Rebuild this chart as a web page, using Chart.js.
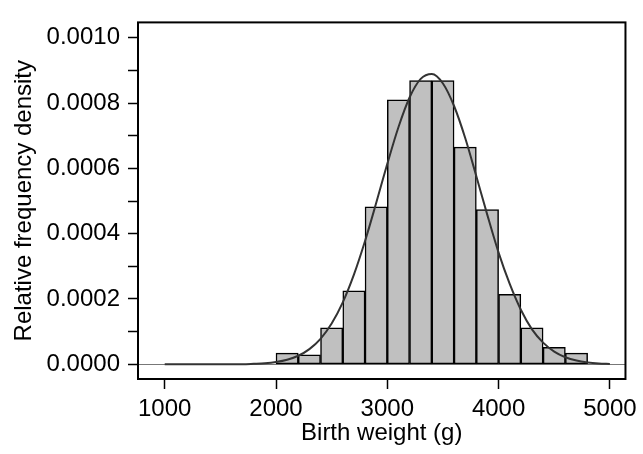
<!DOCTYPE html>
<html>
<head>
<meta charset="utf-8">
<style>
  html, body { margin: 0; padding: 0; background: #fff; }
  canvas { display: block; }
</style>
<script src="https://cdn.jsdelivr.net/npm/chart.js"></script>
</head>
<body>
<canvas id="birthWeightChart" width="643" height="454"></canvas>
<script>
// ─── DATA ───────────────────────────────────────────────
// histogram bins: 200 g wide, given by their centres
const binCentres = [2100, 2300, 2500, 2700, 2900, 3100, 3300, 3500, 3700, 3900, 4100, 4300, 4500, 4700];
const binDensity = [0.0000341, 0.0000292, 0.000112, 0.000225, 0.000482, 0.000810, 0.000869,
                    0.000869, 0.000665, 0.000474, 0.000214, 0.000112, 0.0000517, 0.0000341];

// fitted normal curve
const curveWeight = [1000, 1200, 1400, 1600, 1700, 1800, 1900, 2000, 2100, 2200, 2300, 2400, 2500,
                     2600, 2700, 2800, 2900, 3000, 3100, 3200, 3300, 3400, 3500, 3600, 3700, 3800,
                     3900, 4000, 4100, 4200, 4300, 4400, 4500, 4600, 4700, 4800, 4900, 5000];
const curveDensity = [0, 0, 0, 0, 0.0000001, 0.0000016, 0.0000035, 0.0000073, 0.0000141, 0.0000262,
                      0.0000465, 0.0000780, 0.0001248, 0.0001897, 0.0002744, 0.0003775, 0.0004937,
                      0.000614, 0.000726, 0.000817, 0.000874, 0.000889, 0.000860, 0.000791, 0.000693,
                      0.000576, 0.000456, 0.000342, 0.000246, 0.000167, 0.000107, 0.0000664,
                      0.0000389, 0.0000216, 0.0000114, 0.0000058, 0.0000027, 0.0000012];

// axis ticks
const xTickValues = [1000, 2000, 3000, 4000, 5000];
const yTickValues = [0, 0.0001, 0.0002, 0.0003, 0.0004, 0.0005, 0.0006, 0.0007, 0.0008, 0.0009, 0.0010];
const yTickLabels = ['0.0000', '', '0.0002', '', '0.0004', '', '0.0006', '', '0.0008', '', '0.0010'];

// ─── STYLE ──────────────────────────────────────────────
const FONT = { family: '"Liberation Sans", Arial, Helvetica, sans-serif', size: 24, lineHeight: 1.2 };

// draws the box round the plot area
const frameBox = {
    id: 'frameBox',
    afterDatasetsDraw(chart) {
        const { ctx, chartArea: a } = chart;
        ctx.save();
        ctx.strokeStyle = '#000';
        ctx.lineWidth = 2;
        ctx.strokeRect(a.left, a.top, a.right - a.left, a.bottom - a.top);
        ctx.restore();
    }
};

// ─── RENDER ─────────────────────────────────────────────
const ctx = document.getElementById('birthWeightChart').getContext('2d');
new Chart(ctx, {
    type: 'bar',
    data: {
        datasets: [
            {
                type: 'line',
                order: 0,
                data: curveWeight.map((w, i) => ({ x: w, y: curveDensity[i] })),
                borderColor: '#333',
                borderWidth: 2,
                pointRadius: 0,
                fill: false,
                cubicInterpolationMode: 'monotone'
            },
            {
                type: 'bar',
                order: 1,
                data: binCentres.map((c, i) => ({ x: c, y: binDensity[i] })),
                backgroundColor: '#c0c0c0',
                borderColor: '#000',
                borderWidth: 1.5,
                borderSkipped: false,
                barPercentage: 1,
                categoryPercentage: 1,
                grouped: false
            }
        ]
    },
    options: {
        responsive: false,
        animation: false,
        devicePixelRatio: 1,
        layout: { padding: { left: 0, top: 6, right: 13, bottom: 0 } },
        plugins: { legend: { display: false }, tooltip: { enabled: false } },
        scales: {
            x: {
                type: 'linear',
                offset: false,
                min: 760,
                max: 5140,
                afterBuildTicks: (s) => { s.ticks = xTickValues.map(v => ({ value: v })); },
                afterFit: (s) => { s.height = 75; },
                ticks: { font: FONT, color: '#000', padding: 6, maxRotation: 0, callback: (v) => String(v) },
                grid: { offset: false, drawOnChartArea: false, drawTicks: true, tickLength: 10, tickColor: '#000', tickWidth: 1.5 },
                border: { display: false },
                title: { display: true, text: 'Birth weight (g)', font: FONT, color: '#000', padding: { top: 0, bottom: 6 } }
            },
            y: {
                min: -0.000045,
                max: 0.001047,
                afterBuildTicks: (s) => { s.ticks = yTickValues.map(v => ({ value: v })); },
                afterFit: (s) => { s.width = 138; },
                ticks: { font: FONT, color: '#000', padding: 8, callback: (v, i) => yTickLabels[i] },
                grid: {
                    drawOnChartArea: true,
                    drawTicks: true,
                    tickLength: 10,
                    color: (c) => (c.tick && c.tick.value === 0 ? '#777' : 'rgba(0,0,0,0)'),
                    lineWidth: 1,
                    tickColor: '#000',
                    tickWidth: 1.5
                },
                border: { display: false },
                title: { display: true, text: 'Relative frequency density', font: FONT, color: '#000', padding: { top: 10, bottom: 0 } }
            }
        }
    },
    plugins: [frameBox]
});
</script>
</body>
</html>
